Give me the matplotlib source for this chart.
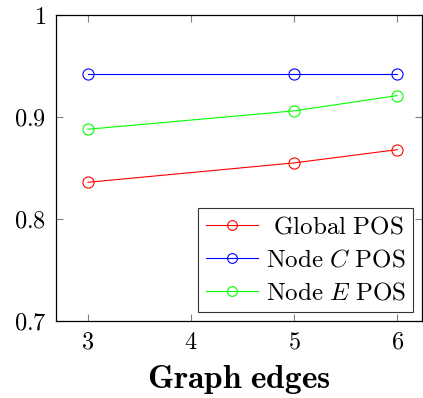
import matplotlib
matplotlib.use('Agg')
import matplotlib.pyplot as plt

plt.rcParams['mathtext.fontset'] = 'cm'
plt.rcParams['font.family'] = 'serif'
plt.rcParams['font.serif'] = ['DejaVu Serif']

edges = [3, 5, 6]
global_pos = [0.836, 0.855, 0.868]
node_c_pos = [0.942, 0.942, 0.942]
node_e_pos = [0.888, 0.906, 0.921]

x_ticks = [3, 4, 5, 6]
y_ticks = [0.7, 0.8, 0.9, 1.0]
y_tick_labels = ['0.7', '0.8', '0.9', '1']

fig = plt.figure(figsize=(4.23, 3.98), dpi=100)
ax = fig.add_axes([56 / 423, 1 - 321 / 398, 366 / 423, 306 / 398])

series = [
    (global_pos, 'red', r'$\mathrm{\ Global\ POS}$'),
    (node_c_pos, 'blue', r'$\mathrm{Node}\ C\ \mathrm{POS}$'),
    (node_e_pos, '#00ff00', r'$\mathrm{Node}\ E\ \mathrm{POS}$'),
]
for vals, col, lab in series:
    ax.plot(edges, vals, color=col, lw=0.8, marker='o', ms=8,
            mfc='none', mec=col, mew=0.8, label=lab)

ax.set_xlim(2.69, 6.24)
ax.set_ylim(0.7, 1.0)
ax.set_xticks(x_ticks)
ax.set_xticklabels(['$%d$' % t for t in x_ticks])
ax.set_yticks(y_ticks)
ax.set_yticklabels(['$%s$' % t for t in y_tick_labels])
ax.tick_params(direction='in', length=5, width=0.8, color='#808080',
               top=True, right=True, labelsize=17.5, pad=7)
for s in ax.spines.values():
    s.set_linewidth(0.9)

ax.set_xlabel(r'$\mathbf{Graph\ edges}$', fontsize=24, labelpad=7)

leg = ax.legend(loc='lower right', fontsize=18, frameon=True, fancybox=False,
                edgecolor='black', borderpad=0.3, labelspacing=0.4,
                handlelength=2.1, handletextpad=0.3, borderaxespad=0.35)
leg.get_frame().set_linewidth(0.8)
for h in leg.legend_handles:
    h.set_markersize(7)

fig.savefig('out.png', dpi=100)
